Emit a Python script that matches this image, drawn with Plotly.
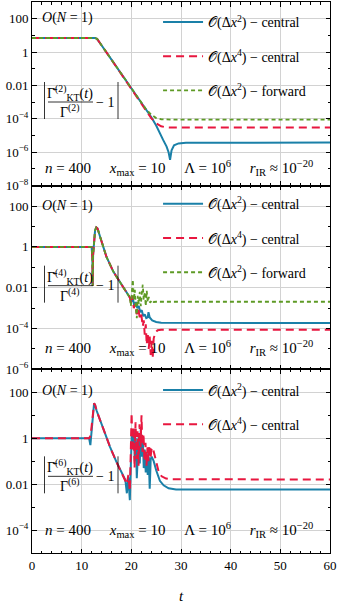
import plotly.graph_objects as go
from plotly.subplots import make_subplots

# ---------------- data ----------------
# Panel 1: |Gamma_KT^(2)(t)/Gamma^(2) - 1|
t_p1_c2 = [0, 12.7, 13.1, 13.5, 14, 16, 18, 20, 22, 23, 24, 25, 25.7, 26.4, 27.1, 27.5, 27.8, 28.1, 28.6, 29.5, 31, 60]
v_p1_c2 = [7.0, 7.0, 6.2, 4.0, 2.57, 0.355, 0.049, 6.8e-3, 9.3e-4, 3.5e-4, 1.3e-4, 4.0e-5, 1.4e-5, 5.5e-6, 2.2e-6, 1.0e-6, 3.5e-7, 1.3e-6, 2.6e-6, 3.4e-6, 3.75e-6, 3.8e-6]
t_p1_c4 = [0, 12.7, 13.1, 13.5, 14, 16, 18, 20, 22, 23, 24, 25, 26, 27, 28, 60]
v_p1_c4 = [7.0, 7.0, 6.2, 4.0, 2.57, 0.355, 0.049, 6.8e-3, 9.3e-4, 3.4e-4, 1.1e-4, 5.5e-5, 3.6e-5, 3.1e-5, 3.0e-5, 3.0e-5]
t_p1_f2 = [0, 12.7, 13.1, 13.5, 14, 16, 18, 20, 22, 23, 24, 25, 26, 27, 28, 60]
v_p1_f2 = [7.0, 7.0, 6.2, 4.0, 2.57, 0.355, 0.049, 6.8e-3, 9.4e-4, 3.7e-4, 1.8e-4, 1.12e-4, 9.5e-5, 9.2e-5, 9.1e-5, 9.1e-5]

# Panel 2: |Gamma_KT^(4)(t)/Gamma^(4) - 1|
t_p2_pre = [0, 12.0, 12.15, 12.22, 12.3, 12.5, 12.7, 12.95, 13.2, 13.7, 15.0, 16.4, 17.7, 19.05, 19.7]
v_p2_pre = [1.0, 1.0, 0.3, 0.012, 0.4, 2.5, 6.5, 9.0, 8.0, 3.2, 0.32, 0.060, 0.0195, 6.3e-3, 3.3e-3]
t_p2_c2 = [20.0, 20.3, 20.6, 20.9, 21.2, 21.5, 21.8, 22.1, 22.4, 22.7, 23.0, 23.3, 23.45, 23.7, 24.2, 25, 26, 60]
v_p2_c2 = [2.0e-3, 3.2e-3, 1.26e-3, 2.0e-3, 1.0e-3, 1.26e-3, 6.3e-4, 7.9e-4, 4.0e-4, 5.0e-4, 3.2e-4, 3.5e-4, 6.3e-4, 3.5e-4, 2.5e-4, 2.1e-4, 1.9e-4, 1.85e-4]
t_p2_c4 = [20.0, 20.2, 20.5, 20.8, 21.1, 21.4, 21.7, 22.0, 22.3, 22.5, 22.7, 22.9, 23.1, 23.3, 23.5, 23.7, 23.9, 24.1, 24.3, 24.5, 24.8, 25.3, 26, 60]
v_p2_c4 = [1.6e-3, 4.0e-3, 1.0e-3, 1.6e-3, 5.0e-4, 1.0e-3, 3.2e-4, 5.0e-4, 1.26e-4, 2.5e-4, 5.0e-5, 1.6e-4, 1.6e-5, 6.3e-5, 1.0e-5, 4.0e-5, 5.0e-6, 2.5e-5, 3.5e-6, 3.2e-5, 6.3e-5, 8.3e-5, 8.7e-5, 8.7e-5]
t_p2_f2 = [19.9, 20.1, 20.3, 20.5, 20.7, 20.9, 21.1, 21.3, 21.5, 21.7, 21.9, 22.1, 22.3, 22.5, 22.7, 22.9, 23.1, 23.3, 23.5, 23.8, 24.1, 24.5, 25, 60]
v_p2_f2 = [1.26e-3, 6.3e-3, 0.025, 2.5e-3, 7.9e-3, 1.0e-3, 3.2e-4, 4.0e-3, 1.6e-3, 6.3e-3, 1.26e-3, 5.0e-3, 0.014, 2.5e-3, 6.3e-3, 1.26e-3, 7.1e-3, 2.0e-3, 3.5e-3, 1.8e-3, 2.5e-3, 2.0e-3, 2.05e-3, 2.05e-3]

# Panel 3: |Gamma_KT^(6)(t)/Gamma^(6) - 1|
t_p3_c2 = [0, 11.5, 11.75, 11.85, 12.1, 12.5, 12.7, 13.0, 14.35, 15.7, 17.0, 18.05, 18.8,
           19.1, 19.4, 19.7, 19.9, 20.1, 20.3, 20.5, 20.7, 20.9, 21.1, 21.3, 21.5, 21.7, 21.9,
           22.1, 22.3, 22.5, 22.7, 22.9, 23.1, 23.3, 23.5, 23.7, 23.9, 24.1, 24.5, 25.0, 25.75,
           26.5, 27.5, 29, 60]
v_p3_c2 = [1.0, 1.0, 0.5, 0.9, 5.0, 33, 28, 16, 2.6, 0.42, 0.093, 0.030, 0.015,
           4.0e-3, 0.020, 2.0e-3, 0.063, 2.0, 0.40, 2.5, 0.10, 1.0, 0.018, 0.50, 1.58, 0.079, 2.5,
           0.158, 1.0, 0.05, 0.32, 0.032, 0.25, 0.025, 0.158, 6.3e-3, 0.126, 0.158, 0.10, 0.040, 0.014,
           8.9e-3, 6.6e-3, 5.9e-3, 5.9e-3]
t_p3_c4 = [0, 11.5, 11.8, 12.1, 12.5, 12.7, 13.0, 14.35, 15.7, 17.0, 18.05, 18.8,
           19.1, 19.4, 19.7, 19.9, 20.05, 20.25, 20.45, 20.65, 20.85, 21.05, 21.25, 21.45, 21.65,
           21.85, 22.05, 22.25, 22.45, 22.65, 22.85, 23.05, 23.25, 23.45, 23.65, 23.85, 24.05,
           24.3, 24.6, 25.0, 25.5, 26.1, 27, 28, 60]
v_p3_c4 = [1.0, 1.0, 1.3, 6.0, 33, 28, 16, 2.6, 0.42, 0.093, 0.030, 0.015,
           0.010, 0.025, 5.0e-3, 0.32, 12.6, 0.25, 3.2, 0.05, 5.0, 0.126, 2.0, 0.063, 4.0,
           0.40, 10, 0.25, 1.58, 0.10, 0.63, 0.063, 0.40, 0.10, 0.50, 0.126, 0.32,
           0.40, 0.20, 0.079, 0.035, 0.022, 0.0174, 0.0162, 0.016]

x_ticks = [0, 10, 20, 30, 40, 50, 60]
y_ticks_p1 = [1e2, 1, 1e-2, 1e-4, 1e-6, 1e-8]
y_labels_p1 = ["100", "1", "0.01", "10<sup>−4</sup>", "10<sup>−6</sup>", "10<sup>−8</sup>"]
y_ticks_p2 = [1e2, 1, 1e-2, 1e-4, 1e-6]
y_labels_p2 = ["100", "1", "0.01", "10<sup>−4</sup>", "10<sup>−6</sup>"]
y_ticks_p3 = [1e2, 1, 1e-2, 1e-4]
y_labels_p3 = ["100", "1", "0.01", "10<sup>−4</sup>"]

name_c2 = "𝒪(Δ<i>x</i><sup>2</sup>) − central"
name_c4 = "𝒪(Δ<i>x</i><sup>4</sup>) − central"
name_f2 = "𝒪(Δ<i>x</i><sup>2</sup>) − forward"

# ---------------- styling ----------------
FONT = "Liberation Serif"
BLUE = "#1a80a8"
RED = "#e8173f"
GREEN = "#5e9a25"

fig = make_subplots(rows=3, cols=1, shared_xaxes=True, vertical_spacing=0)

def blue(t, v, leg, show=True):
    return go.Scatter(x=t, y=v, mode="lines", name=name_c2, legend=leg, legendgroup=leg + "a",
                      showlegend=show, line=dict(color=BLUE, width=2))

def red(t, v, leg, show=True):
    return go.Scatter(x=t, y=v, mode="lines", name=name_c4, legend=leg, legendgroup=leg + "b",
                      showlegend=show, line=dict(color=RED, width=2, dash="8px,5px"))

def green(t, v, leg, show=True):
    return go.Scatter(x=t, y=v, mode="lines", name=name_f2, legend=leg, legendgroup=leg + "c",
                      showlegend=show, line=dict(color=GREEN, width=1.8, dash="4px,3px"))

# panel 1
fig.add_trace(blue(t_p1_c2, v_p1_c2, "legend"), row=1, col=1)
fig.add_trace(red(t_p1_c4, v_p1_c4, "legend"), row=1, col=1)
fig.add_trace(green(t_p1_f2, v_p1_f2, "legend"), row=1, col=1)
# panel 2
fig.add_trace(blue(t_p2_pre + t_p2_c2, v_p2_pre + v_p2_c2, "legend2"), row=2, col=1)
fig.add_trace(red(t_p2_pre + t_p2_c4, v_p2_pre + v_p2_c4, "legend2"), row=2, col=1)
fig.add_trace(green(t_p2_pre + t_p2_f2, v_p2_pre + v_p2_f2, "legend2"), row=2, col=1)
# panel 3
fig.add_trace(blue(t_p3_c2, v_p3_c2, "legend3"), row=3, col=1)
fig.add_trace(red(t_p3_c4, v_p3_c4, "legend3"), row=3, col=1)

axis_common = dict(showline=True, linecolor="black", linewidth=1, mirror="allticks",
                   ticks="inside", tickcolor="black", ticklen=4.5, tickwidth=0.8,
                   showgrid=True, gridcolor="#d2d2d2", gridwidth=1, zeroline=False,
                   automargin=False, ticklabeloverflow="allow",
                   tickfont=dict(family=FONT, size=13, color="black"))

for r in (1, 2, 3):
    fig.update_xaxes(range=[0, 60], tickvals=x_ticks, showticklabels=(r == 3),
                     minor=dict(dtick=2, ticks="inside", ticklen=2.5, tickcolor="black",
                                tickwidth=0.8, showgrid=False),
                     row=r, col=1, **axis_common)

fig.update_xaxes(title=dict(text="<i>t</i>", font=dict(family=FONT, size=15, color="black"),
                            standoff=18), row=3, col=1)

yspecs = [([-8, 3], y_ticks_p1, y_labels_p1), ([-6, 3], y_ticks_p2, y_labels_p2),
          ([-5, 3], y_ticks_p3, y_labels_p3)]
for r, (rng, tv, tt) in enumerate(yspecs, start=1):
    fig.update_yaxes(type="log", range=rng, tickvals=tv, ticktext=tt,
                     minor=dict(dtick=1, ticks="inside", ticklen=2.5, tickcolor="black",
                                tickwidth=0.8, showgrid=False),
                     row=r, col=1, **axis_common)

# ---------------- text inside panels ----------------
PH = 551 / 3.0   # panel height in px
PW = 298.0
tfont = dict(family=FONT, size=14, color="black")
SP = "\u00a0" * 5
annotations = []
shapes = []
# per panel: (O(N=1) y offset, bottom text y offset, fraction line y offset, order)
panel_text = [(16.5, 166, 100, 2), (20.5, 162.5, 100, 4), (22, 161, 107, 6)]
for i, (dy_o, dy_b, dy_f, order) in enumerate(panel_text, start=1):
    xr = "x domain" if i == 1 else f"x{i} domain"
    yr = "y domain" if i == 1 else f"y{i} domain"
    def X(px):
        return (px - 32) / PW
    def Y(dy):
        return 1 - dy / PH
    annotations.append(dict(xref=xr, yref=yr, x=X(40), y=Y(dy_o), xanchor="left", yanchor="middle",
                            text="<i>O</i>(<i>N</i> = 1)", showarrow=False, font=tfont))
    annotations.append(dict(xref=xr, yref=yr, x=X(43), y=Y(dy_b), xanchor="left", yanchor="middle",
                            text=f"<i>n</i> = 400{SP}<i>x</i><sub>max</sub> = 10{SP}Λ = 10<sup>6</sup>{SP}<i>r</i><sub>IR</sub> ≈ 10<sup>−20</sup>",
                            showarrow=False, font=dict(family=FONT, size=15, color="black")))
    annotations.append(dict(xref=xr, yref=yr, x=X(70), y=Y(dy_f - 9), xanchor="center", yanchor="middle",
                            text=f"Γ̄<sup>({order})</sup><sub>KT</sub>(<i>t</i>)", showarrow=False, font=tfont))
    annotations.append(dict(xref=xr, yref=yr, x=X(70), y=Y(dy_f + 9), xanchor="center", yanchor="middle",
                            text=f"Γ<sup>({order})</sup>", showarrow=False, font=tfont))
    annotations.append(dict(xref=xr, yref=yr, x=X(105), y=Y(dy_f), xanchor="center", yanchor="middle",
                            text="− 1", showarrow=False, font=tfont))
    shapes.append(dict(type="line", xref=xr, yref=yr, x0=X(48), x1=X(93), y0=Y(dy_f), y1=Y(dy_f),
                       line=dict(color="black", width=0.8)))
    for bx in (44.5, 118):
        shapes.append(dict(type="line", xref=xr, yref=yr, x0=X(bx), x1=X(bx),
                           y0=Y(dy_f - 20), y1=Y(dy_f + 17), line=dict(color="black", width=0.8)))

legend_common = dict(x=0.423, xanchor="left", yanchor="top", bgcolor="rgba(0,0,0,0)",
                     traceorder="grouped", tracegroupgap=13, itemwidth=40,
                     font=dict(family=FONT, size=14, color="black"))

fig.update_layout(
    width=338, height=606,
    margin=dict(l=32, r=8, t=2, b=53),
    paper_bgcolor="white", plot_bgcolor="white",
    font=dict(family=FONT, size=13, color="black"),
    annotations=annotations, shapes=shapes,
    legend=dict(y=0.992, **legend_common),
    legend2=dict(y=0.662, **legend_common),
    legend3=dict(y=0.324, **legend_common),
)

fig.write_html("out.html", config={"displayModeBar": False},
               post_script="document.body.style.margin='0px';")
